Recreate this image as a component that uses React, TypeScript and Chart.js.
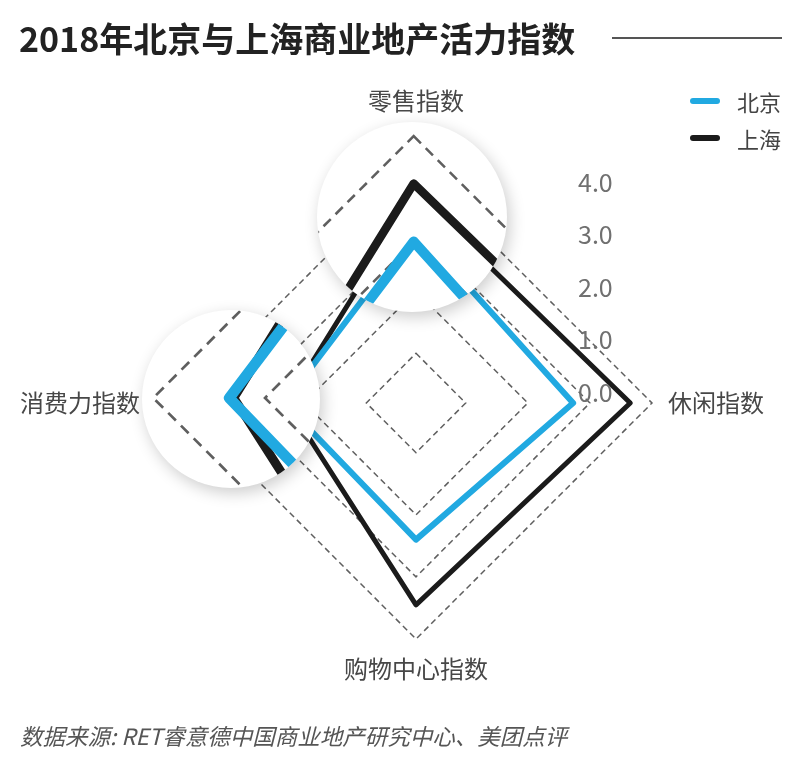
import React, { useEffect, useRef } from "react";
import { Chart, registerables } from "chart.js";

Chart.register(...registerables);

const CATEGORIES = ["零售指数", "休闲指数", "购物中心指数", "消费力指数"];
const SERIES_NAMES = ["北京", "上海"];
const BEIJING = [3.0, 2.73, 2.4, 2.32];
const SHANGHAI = [3.55, 3.65, 3.45, 2.28];
const GRID_LEVELS = [1, 2, 3, 4];
const TICK_VALUES = [0, 1, 2, 3, 4];
const TICK_LABELS = ["0.0", "1.0", "2.0", "3.0", "4.0"];
const SCALE_MIN = 0.2;
const SCALE_MAX = 4;

const BLUE = "#21a9e1";
const BLACK = "#1b1b1b";
const CJK = '"Noto Sans CJK SC", "Noto Sans", sans-serif';

// magnifier callouts: circle centre (dx,dy), radius r, source point (sx,sy), zoom k
const MAGNIFIERS = [
  { dx: 412, dy: 217, r: 95, sx: 415, sy: 214.6, k: 1.7 },
  { dx: 231, dy: 399, r: 89, sx: 285.3, sy: 403.6, k: 1.8 },
];

// label offsets beyond the outer ring, per axis
const LABEL_OFFSETS = [66, 16, 30, 40];
const LABEL_ALIGN: CanvasTextAlign[] = ["center", "left", "center", "right"];

const overlayPlugin = {
  id: "overlay",
  afterDraw(chart: any) {
    const ctx = chart.ctx as CanvasRenderingContext2D;
    const scale = chart.scales.r;

    // magnifier callouts
    for (const m of MAGNIFIERS) {
      ctx.save();
      ctx.beginPath();
      ctx.arc(m.dx, m.dy, m.r, 0, Math.PI * 2);
      ctx.shadowColor = "rgba(0,0,0,0.2)";
      ctx.shadowBlur = 16;
      ctx.shadowOffsetX = 3;
      ctx.shadowOffsetY = 5;
      ctx.fillStyle = "#ffffff";
      ctx.fill();
      ctx.restore();

      ctx.save();
      ctx.beginPath();
      ctx.arc(m.dx, m.dy, m.r, 0, Math.PI * 2);
      ctx.clip();
      ctx.translate(m.dx, m.dy);
      ctx.scale(m.k, m.k);
      ctx.translate(-m.sx, -m.sy);
      scale.drawGrid();
      for (let i = chart.data.datasets.length - 1; i >= 0; i--) {
        chart.getDatasetMeta(i).controller.draw();
      }
      ctx.restore();
    }

    // point labels
    ctx.save();
    ctx.font = `24px ${CJK}`;
    ctx.fillStyle = "#474747";
    ctx.textBaseline = "middle";
    chart.data.labels.forEach((lab: string, i: number) => {
      const p = scale.getPointPosition(i, scale.drawingArea + LABEL_OFFSETS[i]);
      ctx.textAlign = LABEL_ALIGN[i];
      ctx.fillText(lab, p.x, p.y);
    });
    ctx.restore();

    // value labels column on the right
    ctx.save();
    ctx.font = `25px ${CJK}`;
    ctx.fillStyle = "#707070";
    ctx.textAlign = "left";
    ctx.textBaseline = "middle";
    TICK_VALUES.forEach((v, i) => {
      ctx.fillText(TICK_LABELS[i], scale.xCenter + 162, scale.yCenter - 11 - v * 52.5);
    });
    ctx.restore();
  },
};

export default function App() {
  const ref = useRef<HTMLCanvasElement>(null);

  useEffect(() => {
    if (!ref.current) return;
    const chart = new Chart(ref.current, {
      type: "radar",
      data: {
        labels: CATEGORIES,
        datasets: [
          {
            label: SERIES_NAMES[0],
            data: BEIJING,
            borderColor: BLUE,
            backgroundColor: BLUE,
            borderWidth: 6,
            borderJoinStyle: "round",
            pointRadius: 0,
            fill: false,
          },
          {
            label: SERIES_NAMES[1],
            data: SHANGHAI,
            borderColor: BLACK,
            backgroundColor: BLACK,
            borderWidth: 5,
            borderJoinStyle: "round",
            pointRadius: 0,
            fill: false,
          },
        ],
      },
      options: {
        responsive: false,
        animation: false,
        layout: { padding: { left: 180, right: 148, top: 167, bottom: 122 } },
        plugins: {
          legend: { display: false },
          title: { display: false },
          tooltip: { enabled: false },
        },
        scales: {
          r: {
            min: SCALE_MIN,
            max: SCALE_MAX,
            afterBuildTicks: (s: any) => {
              s.ticks = [SCALE_MIN, ...GRID_LEVELS].map((v) => ({ value: v }));
            },
            ticks: { display: false },
            pointLabels: { display: false },
            angleLines: { display: false },
            grid: { color: "#5f5f5f", lineWidth: 1.5 },
            border: { dash: [6, 4] },
          },
        },
      },
      plugins: [overlayPlugin],
    } as any);
    return () => chart.destroy();
  }, []);

  const legendItem = (name: string, color: string, top: number) => (
    <div style={{ position: "absolute", left: 690, top, height: 24, display: "flex", alignItems: "center" }}>
      <div style={{ width: 30, height: 6, borderRadius: 3, background: color }} />
      <span style={{ marginLeft: 17, fontFamily: CJK, fontSize: 22, color: "#444", lineHeight: "24px" }}>{name}</span>
    </div>
  );

  return (
    <div style={{ position: "fixed", left: 0, top: 0, width: 800, height: 761, background: "#fff", overflow: "hidden" }}>
      <canvas ref={ref} width={800} height={761} style={{ position: "absolute", left: 0, top: 0, display: "block" }} />
      <div style={{ position: "absolute", left: 19, top: 19, fontFamily: CJK, fontWeight: 700, fontSize: 34, lineHeight: "38px", color: "#222", whiteSpace: "nowrap" }}>
        2018年北京与上海商业地产活力指数
      </div>
      <div style={{ position: "absolute", left: 612, top: 37, width: 170, height: 2, background: "#555" }} />
      {legendItem(SERIES_NAMES[0], BLUE, 89)}
      {legendItem(SERIES_NAMES[1], BLACK, 126)}
      <div style={{ position: "absolute", left: 20, top: 720, fontFamily: CJK, fontStyle: "italic", fontSize: 22.5, lineHeight: "30px", color: "#555", whiteSpace: "nowrap" }}>
        数据来源: RET睿意德中国商业地产研究中心、美团点评
      </div>
    </div>
  );
}
